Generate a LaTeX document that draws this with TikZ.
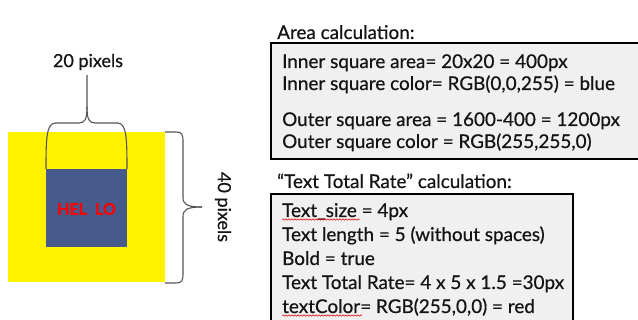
\documentclass[tikz,border=0pt]{standalone}
\usepackage{fontspec}
\setmainfont{Lato}[UprightFeatures={FakeBold=0.6}, BoldFeatures={FakeBold=1.2}]
\usetikzlibrary{decorations.pathmorphing}
\definecolor{innerblue}{RGB}{71,90,140}
\definecolor{boxgray}{RGB}{240,240,240}
\definecolor{bracegray}{RGB}{85,85,85}
\definecolor{inkdark}{RGB}{20,20,20}
\tikzset{
  brace line/.style={draw=bracegray, line width=1.1pt},
  calcbox/.style={draw=black, fill=boxgray, line width=1.4pt},
  calcline/.style={anchor=base west, inner sep=0pt, text=inkdark, font=\fontsize{18.9}{22}\selectfont},
  dimlabel/.style={inner sep=0pt, text=inkdark, font=\fontsize{18}{21}\selectfont},
  spellmark/.style={draw=red!85!black, line width=0.5pt, decorate,
    decoration={snake, amplitude=0.7pt, segment length=3pt}}
}
\begin{document}
\begin{tikzpicture}[x=1pt, y=-1pt]
\useasboundingbox (0,0) rectangle (638,320);

% outer and inner squares
\fill[yellow] (8,132) rectangle (165,282);
\fill[innerblue] (46,169) rectangle (127,247);
\node[inner sep=0pt, text=red, font=\bfseries\fontsize{16}{18}\selectfont] (hello) at (86.5,209) {HEL\hspace{0.5em}LO};

% width brace over the inner square
\draw[brace line] (46,169) .. controls (46,138) and (46.5,124) .. (55,123)
  -- (79,123) .. controls (85,123) and (87,119) .. (87,107) -- (87,75);
\draw[brace line] (127,169) .. controls (127,138) and (126.5,124) .. (118,123)
  -- (95,123) .. controls (89,123) and (87,119) .. (87,107);
\node[dimlabel] (w) at (88,62) {20 pixels};

% height brace beside the outer square
\draw[brace line] (165,132) -- (176,132) .. controls (182,132) and (183,134) .. (183,142)
  -- (183,197) .. controls (183,204) and (186,207) .. (202,207);
\draw[brace line] (165,283) -- (176,283) .. controls (182,283) and (183,281) .. (183,273)
  -- (183,217) .. controls (183,210) and (186,207) .. (202,207);
\node[dimlabel, rotate=-90] (h) at (223,207) {40 pixels};

% area calculation
\node[calcline] (areatitle) at (277,39) {Area calculation:};
\draw[calcbox] (271,43) rectangle (645,159);
\node[calcline] (a1) at (282,68) {Inner square area= 20x20 = 400px};
\node[calcline] (a2) at (282,90) {Inner square color= RGB(0,0,255) = blue};
\node[calcline] (a3) at (282,126) {Outer square area = 1600-400 = 1200px};
\node[calcline] (a4) at (282,148) {Outer square color = RGB(255,255,0)};

% text total rate calculation
\node[calcline] (ratetitle) at (277,188) {“Text Total Rate” calculation:};
\draw[calcbox] (271,194) rectangle (573,330);
\node[calcline] (r1) at (282,217) {Text\_size = 4px};
\node[calcline] (r2) at (282,241) {Text length = 5 (without spaces)};
\node[calcline] (r3) at (282,265) {Bold = true};
\node[calcline] (r4) at (282,289) {Text Total Rate= 4 x 5 x 1.5 =30px};
\node[calcline] (r5) at (282,313) {textColor= RGB(255,0,0) = red};
\draw[spellmark] ([yshift=-2.5pt]r1.base west) -- ++(78,0);
\draw[spellmark] ([yshift=-2.5pt]r5.base west) -- ++(80,0);
\end{tikzpicture}
\end{document}
